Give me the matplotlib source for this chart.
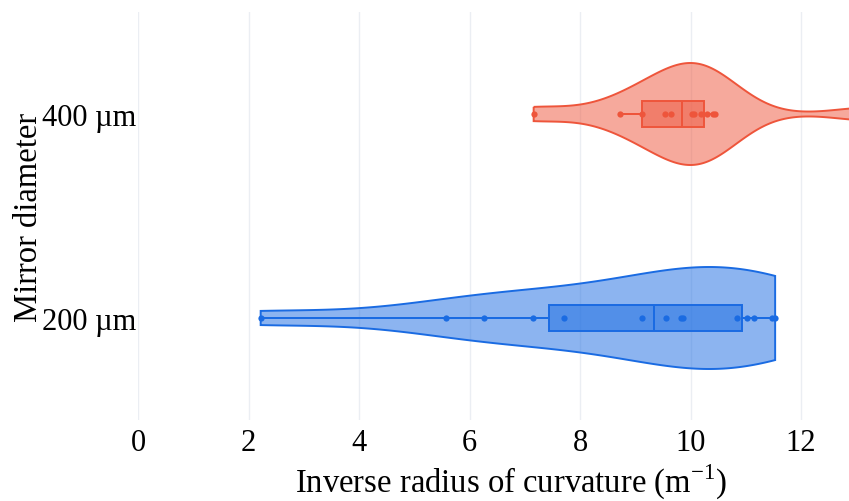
import numpy as np
import matplotlib
matplotlib.use("Agg")
import matplotlib.pyplot as plt

plt.rcParams['font.family'] = ['Liberation Serif', 'DejaVu Serif']

# Data
groups = ["200 µm", "400 µm"]
vals_200 = [2.22, 5.57, 6.26, 7.15, 7.71, 9.12, 9.55, 9.83, 9.87, 10.84, 11.02, 11.14, 11.47, 11.53]
vals_400 = [7.16, 8.73, 9.12, 9.54, 9.65, 10.03, 10.07, 10.19, 10.30, 10.40, 10.45, 13.3]

# box summary (whislo, q1, med, q3, whishi) as shown
box_200 = [2.22, 7.43, 9.34, 10.93, 11.53]
box_400 = [8.73, 9.12, 9.84, 10.24, 10.45]

colors = ["#1A6BE2", "#EE553B"]
bandwidths = [1.5, 0.68]

fig = plt.figure(figsize=(8.49, 5.02), dpi=100)
# plot area runs past the right edge of the picture (cropped in the original)
ax = fig.add_axes([138 / 849, 1 - 421 / 502, (884 - 138) / 849, (421 - 13) / 502])


def violin(ax, data, ypos, color, box, bw):
    data = np.asarray(data)
    grid = np.linspace(data.min(), data.max(), 500)
    dens = np.exp(-0.5 * ((grid[:, None] - data[None, :]) / bw) ** 2).sum(axis=1)
    half = dens / dens.max() * 0.25
    xs = np.concatenate([grid, grid[::-1]])
    ys = np.concatenate([ypos + half, (ypos - half)[::-1]])
    ax.fill(xs, ys, facecolor=color, alpha=0.5, edgecolor="none", zorder=2)
    ax.fill(xs, ys, facecolor="none", edgecolor=color, linewidth=1.4, zorder=3)

    stats = [dict(whislo=box[0], q1=box[1], med=box[2], q3=box[3], whishi=box[4], fliers=[])]
    ax.bxp(stats, positions=[ypos], vert=False, widths=0.125, patch_artist=True,
           showcaps=False, manage_ticks=False, zorder=4,
           boxprops=dict(facecolor=color, alpha=0.5, edgecolor="none"),
           whiskerprops=dict(color=color, linewidth=1.4),
           medianprops=dict(color=color, linewidth=1.4))
    ax.bxp(stats, positions=[ypos], vert=False, widths=0.125, patch_artist=True,
           showcaps=False, manage_ticks=False, zorder=5,
           boxprops=dict(facecolor="none", edgecolor=color, linewidth=1.4),
           whiskerprops=dict(color=color, linewidth=1.4),
           medianprops=dict(color=color, linewidth=1.4))
    ax.plot(data, np.full(len(data), ypos), "o", color=color, markersize=4.5,
            markeredgewidth=0, zorder=6)


violin(ax, vals_200, 0, colors[0], box_200, bandwidths[0])
violin(ax, vals_400, 1, colors[1], box_400, bandwidths[1])

ax.set_xlim(0, 13.5)
ax.set_ylim(-0.5, 1.5)
ax.set_xticks(range(0, 13, 2))
ax.set_yticks([0, 1])
ax.set_yticklabels(groups)
ax.tick_params(length=0, labelsize=22)
ax.tick_params(axis="x", pad=6)
ax.tick_params(axis="y", pad=1)
ax.grid(axis="x", color="#EBEEF3", linewidth=1)
ax.set_axisbelow(True)
for s in ax.spines.values():
    s.set_visible(False)

ax.set_xlabel("Inverse radius of curvature (m$^{\\mathregular{-1}}$)", fontsize=23.5, labelpad=3)
ax.set_ylabel("Mirror diameter", fontsize=23.5, labelpad=-1.5)

fig.savefig("out.png", dpi=100)
